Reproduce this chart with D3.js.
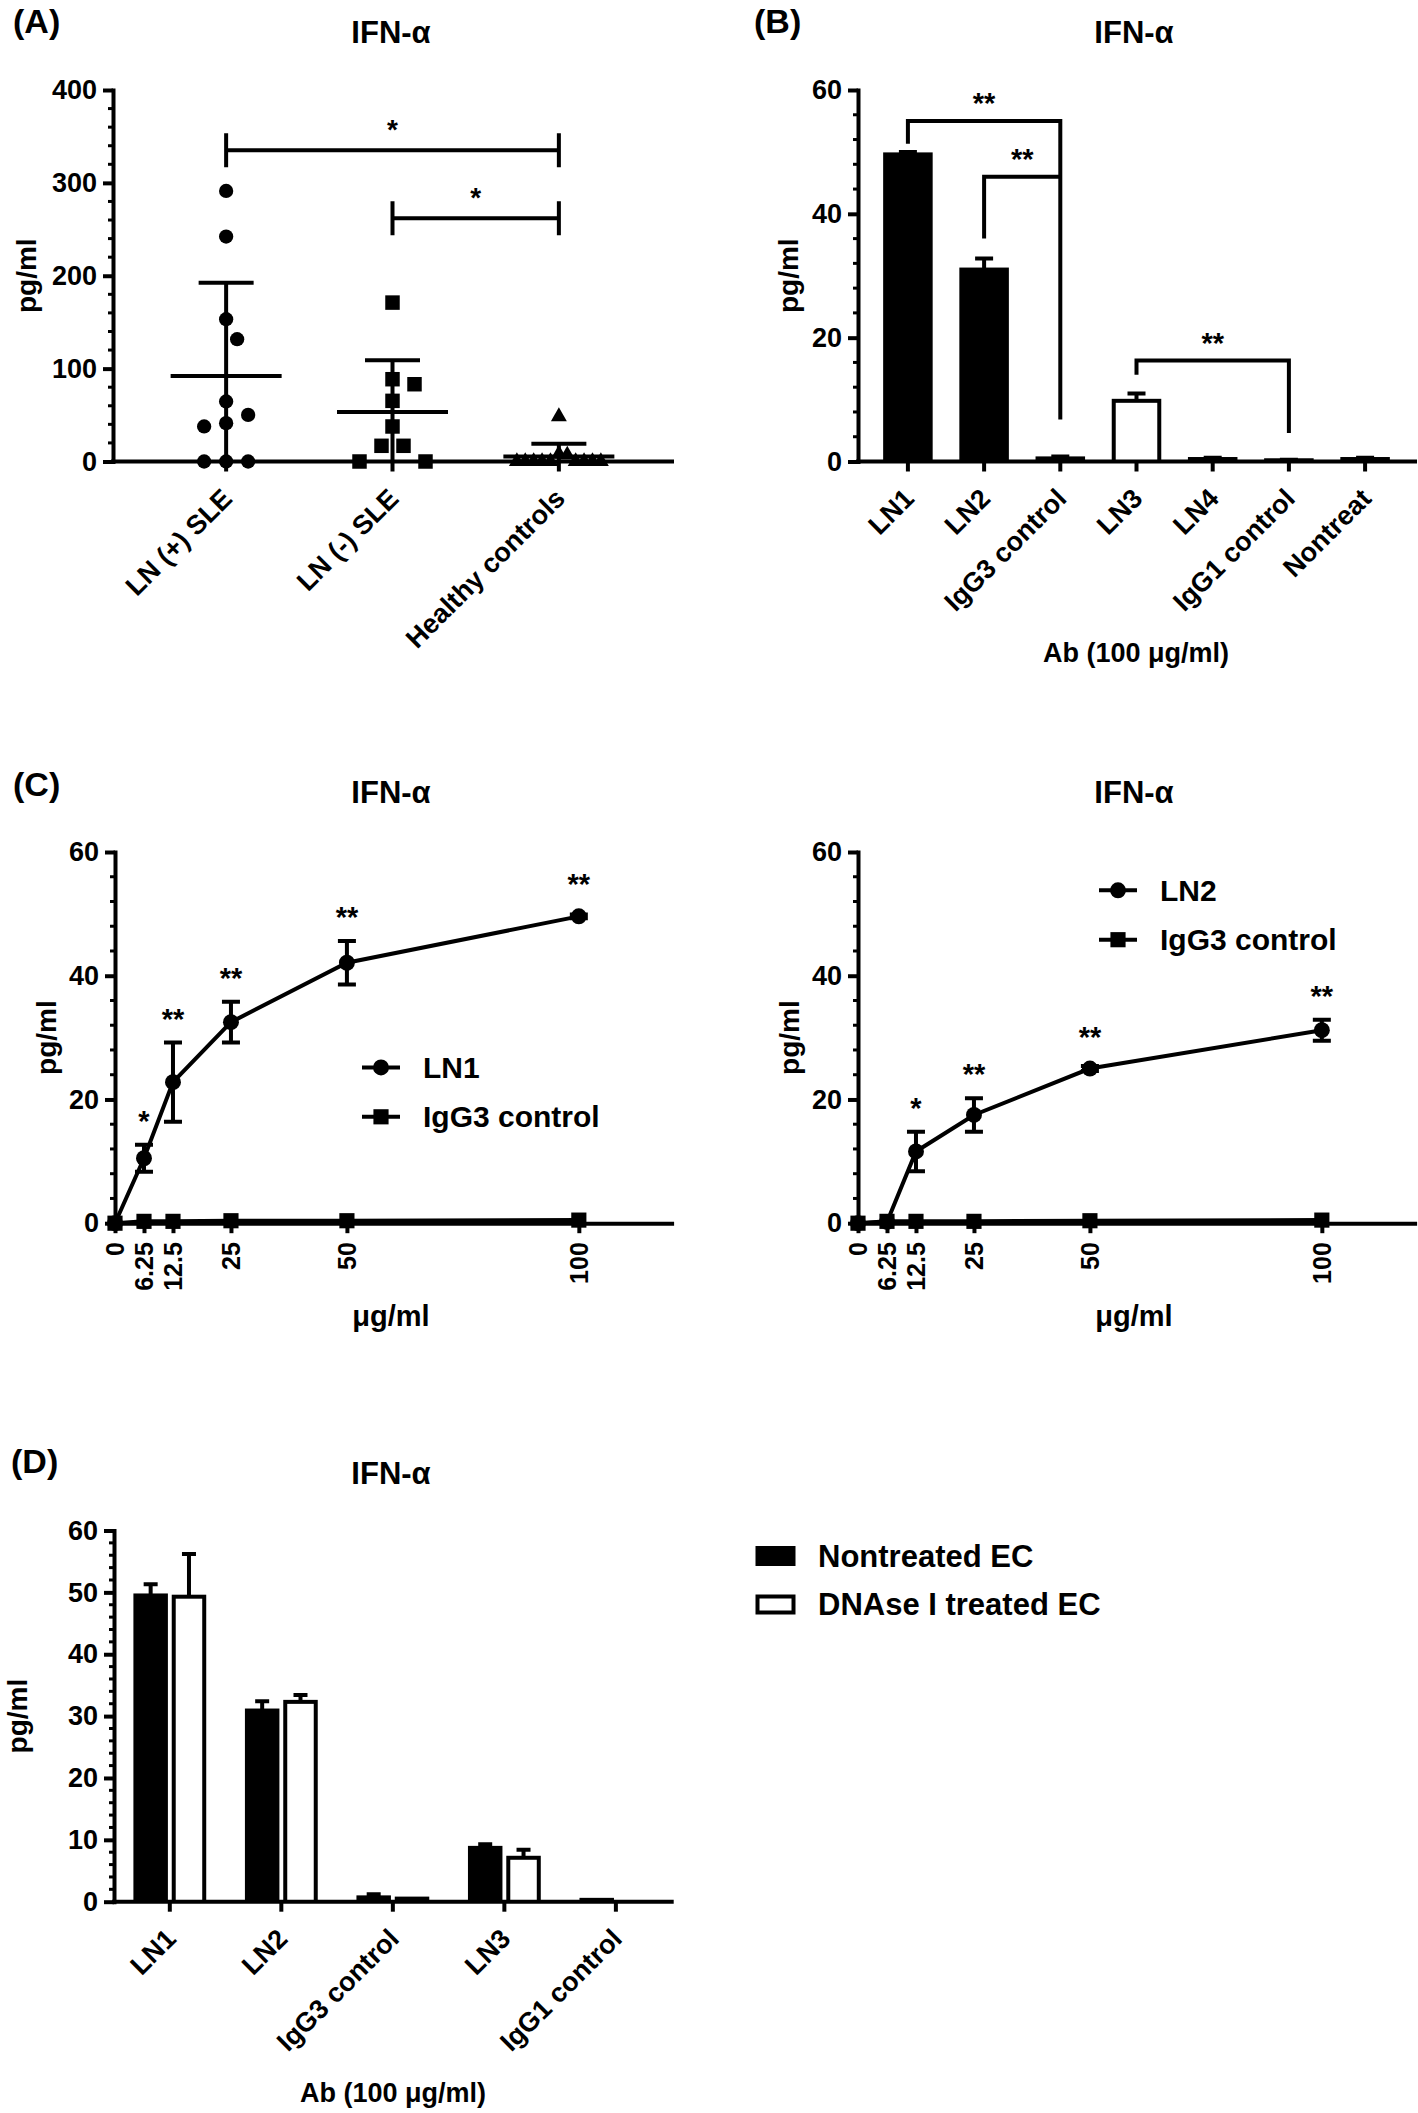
<!DOCTYPE html>
<html>
<head>
<meta charset="utf-8">
<script src="https://cdn.jsdelivr.net/npm/d3@7"></script>
<style>
  html, body { margin: 0; padding: 0; background: #fff; }
  svg { display: block; }
</style>
</head>
<body>
<script>
// ---------------- DATA ----------------
// Panel A : individual values (pg/ml)
const aCategories = ["LN (+) SLE", "LN (-) SLE", "Healthy controls"];
const aLNpos   = [291.3, 242.2, 153.2, 131.7, 64.6, 50.2, 41.3, 37.7, 0, 0, 0];
const aLNneg   = [171.1, 88.6, 83.2, 65.3, 37.7, 16.9, 16.9, 0, 0];
const aHealthy = [48.4, 8, 7, 0, 0, 0, 0, 0, 0, 0, 0, 0];
const aTicks = [0, 100, 200, 300, 400];
const aMinorStep = 20;
// [from index, to index, level (pg/ml), label]
const aBrackets = [[0, 2, 335, "*"], [1, 2, 262, "*"]];

// Panel B : bar means and SD
const bCategories = ["LN1", "LN2", "IgG3 control", "LN3", "LN4", "IgG1 control", "Nontreat"];
const bMeans = [49.6, 31.0, 0.5, 9.8, 0.4, 0.2, 0.4];
const bSD    = [0.4, 1.8, 0.3, 1.2, 0.2, 0.1, 0.2];
const bTicks = [0, 20, 40, 60];
// [from, to, level, leg end at from, leg end at to, label]
const bBrackets = [
  ["LN1", "IgG3 control", 55.0, 51.3, 6.8, "**"],
  ["LN2", "IgG3 control", 46.0, 36.0, 46.0, "**"],
  ["LN3", "IgG1 control", 16.3, 14.0, 4.6, "**"]
];
const bXTitle = "Ab (100 \u03bcg/ml)";

// Panel C : dose response
const cDoses = [0, 6.25, 12.5, 25, 50, 100];
const cDoseLabels = ["0", "6.25", "12.5", "25", "50", "100"];
const cLN1   = [0, 10.5, 22.8, 32.5, 42.1, 49.6];
const cLN1sd = [0, 2.2, 6.4, 3.3, 3.5, 0.3];
const cIgG3L = [0, 0.3, 0.3, 0.4, 0.4, 0.5];
const cLN1sig = ["", "*", "**", "**", "**", "**"];
const cLN2   = [0, 0.2, 11.6, 17.5, 25.0, 31.2];
const cLN2sd = [0, 0, 3.2, 2.7, 0.4, 1.7];
const cIgG3R = [0, 0.3, 0.3, 0.3, 0.4, 0.5];
const cLN2sig = ["", "", "*", "**", "**", "**"];
const cTicks = [0, 20, 40, 60];
const cXTitle = "\u03bcg/ml";

// Panel D : grouped bars
const dCategories = ["LN1", "LN2", "IgG3 control", "LN3", "IgG1 control"];
const dSeries = ["Nontreated EC", "DNAse I treated EC"];
const dNontreated   = [49.5, 30.9, 0.7, 8.7, 0.3];
const dNontreatedSD = [1.8, 1.5, 0.5, 0.6, 0];
const dDNAse        = [49.3, 32.3, 0.5, 7.1, 0];
const dDNAseSD      = [6.9, 1.1, 0, 1.3, 0];
const dTicks = [0, 10, 20, 30, 40, 50, 60];

const titleText = "IFN-\u03b1";
const yTitle = "pg/ml";

// ---------------- STYLE ----------------
const FONT = "'Liberation Sans', Arial, Helvetica, sans-serif";
const SW = 4;
const svg = d3.select("body").append("svg").attr("width", 1418).attr("height", 2113);

function txt(g, x, y, s, size, opts = {}) {
  const t = g.append("text").attr("x", x).attr("y", y).text(s)
    .attr("font-family", FONT).attr("font-weight", "bold")
    .attr("font-size", size).attr("fill", "#000")
    .attr("text-anchor", opts.anchor || "middle");
  if (opts.dy) t.attr("dy", opts.dy);
  if (opts.transform) t.attr("transform", opts.transform);
  return t;
}

function yAxis(g, y, x0, ticks, minorStep) {
  const ax = g.append("g").attr("transform", `translate(${x0},0)`)
    .call(d3.axisLeft(y).tickValues(ticks).tickSize(10).tickPadding(6).tickSizeOuter(0));
  ax.selectAll("path,line").attr("stroke", "#000").attr("stroke-width", SW);
  ax.select("path.domain").attr("stroke-linecap", "square");
  ax.selectAll("text").attr("font-family", FONT).attr("font-weight", "bold")
    .attr("font-size", 27).attr("fill", "#000");
  const dom = y.domain();
  const minors = d3.range(dom[0], dom[1] + 1e-9, minorStep).filter(v => !ticks.some(t => Math.abs(t - v) < 1e-9));
  g.append("g").selectAll("line").data(minors).join("line")
    .attr("x1", x0 - 5).attr("x2", x0).attr("y1", d => y(d)).attr("y2", d => y(d))
    .attr("stroke", "#000").attr("stroke-width", 3);
}

function xBaseline(g, x0, x1, yy) {
  g.append("line").attr("x1", x0).attr("x2", x1).attr("y1", yy).attr("y2", yy)
    .attr("stroke", "#000").attr("stroke-width", SW).attr("stroke-linecap", "square");
}

function catTicks(g, xs, yy) {
  g.append("g").selectAll("line").data(xs).join("line")
    .attr("x1", d => d).attr("x2", d => d).attr("y1", yy).attr("y2", yy + 10)
    .attr("stroke", "#000").attr("stroke-width", SW);
}

function rotLabels(g, labels, xs, yy, size) {
  labels.forEach((s, i) => {
    txt(g, 0, 0, s, size, { anchor: "end", dy: "0.35em",
      transform: `translate(${xs[i] + 1},${yy + 32}) rotate(-45)` });
  });
}

// bar drawn as outer black rect (value edge carries half the stroke) plus inner white for open bars
function bar(g, x0, w, top, y0, open) {
  g.append("rect").attr("x", x0).attr("width", w)
    .attr("y", top - SW / 2).attr("height", Math.max(0, y0 - top + SW / 2)).attr("fill", "#000");
  const ih = y0 - top - SW / 2;
  if (open && ih > 0) {
    g.append("rect").attr("x", x0 + SW).attr("width", w - 2 * SW)
      .attr("y", top + SW / 2).attr("height", ih).attr("fill", "#fff");
  }
}

function swarm(values, y, s, dmin, maxHalf) {
  const pts = values.map((v, i) => ({ v, i, y: y(v) })).sort((a, b) => b.v - a.v);
  const placed = [];
  pts.forEach(p => {
    for (let k = 0; k < 200; k++) {
      const c = k === 0 ? 0 : (k % 2 === 1 ? 1 : -1) * Math.ceil(k / 2) * s;
      if (placed.every(q => Math.hypot(q.dx - c, q.y - p.y) >= dmin)) { p.dx = c; placed.push(p); break; }
    }
  });
  const m = d3.max(placed, p => Math.abs(p.dx));
  if (m > maxHalf) placed.forEach(p => p.dx *= maxHalf / m);
  return placed;
}

// ---------------- PANEL A ----------------
(function () {
  const g = svg.append("g");
  const y = d3.scaleLinear().domain([0, 400]).range([461.5, 90]);
  const x = d3.scalePoint().domain(aCategories).range([113, 672]).padding(0.68);
  txt(g, 13, 33, "(A)", 34, { anchor: "start" });
  txt(g, 391, 43, titleText, 31);
  txt(g, 0, 0, yTitle, 28, { dy: "0.26em", transform: `translate(29,${(y(0) + y(400)) / 2}) rotate(-90)` });

  aBrackets.forEach(([a, b, lvl, lab]) => {
    const x1 = x(aCategories[a]), x2 = x(aCategories[b]), yy = y(lvl);
    g.append("path").attr("d", `M${x1},${yy}H${x2}M${x1},${yy - 17}V${yy + 17}M${x2},${yy - 17}V${yy + 17}`)
      .attr("stroke", "#000").attr("stroke-width", SW).attr("fill", "none");
    txt(g, (x1 + x2) / 2, yy - 11, lab, 28);
  });

  const groups = [aLNpos, aLNneg, aHealthy];
  const symbols = [d3.symbolCircle, d3.symbolSquare, d3.symbolTriangle];
  const sizes = [160, 210, 110];
  groups.forEach((vals, gi) => {
    const cx = x(aCategories[gi]);
    const mean = d3.mean(vals), sd = d3.deviation(vals);
    g.append("line").attr("x1", cx - 55.5).attr("x2", cx + 55.5).attr("y1", y(mean)).attr("y2", y(mean))
      .attr("stroke", "#000").attr("stroke-width", SW);
    g.append("line").attr("x1", cx).attr("x2", cx).attr("y1", y(Math.max(0, mean - sd))).attr("y2", y(mean + sd))
      .attr("stroke", "#000").attr("stroke-width", SW);
    g.append("line").attr("x1", cx - 27.5).attr("x2", cx + 27.5).attr("y1", y(mean + sd)).attr("y2", y(mean + sd))
      .attr("stroke", "#000").attr("stroke-width", SW);
    const pts = swarm(vals, y, 11, 21, gi === 2 ? 42 : 60);
    g.append("g").selectAll("path").data(pts).join("path")
      .attr("d", d3.symbol().type(symbols[gi]).size(sizes[gi]))
      .attr("transform", p => `translate(${cx + p.dx},${p.y})`)
      .attr("fill", "#000");
  });

  yAxis(g, y, 113, aTicks, aMinorStep);
  xBaseline(g, 113, 672, y(0));
  catTicks(g, aCategories.map(c => x(c)), y(0));
  rotLabels(g, aCategories, aCategories.map(c => x(c)), y(0), 27);
})();

// ---------------- PANEL B ----------------
(function () {
  const g = svg.append("g");
  const y = d3.scaleLinear().domain([0, 60]).range([461.5, 90]);
  const x = d3.scaleBand().domain(bCategories).range([858, 1415]).paddingInner(0.35).paddingOuter(0.33);
  const openBars = new Set(["LN3", "LN4", "IgG1 control"]);
  txt(g, 754, 33, "(B)", 34, { anchor: "start" });
  txt(g, 1134, 43, titleText, 31);
  txt(g, 0, 0, yTitle, 28, { dy: "0.26em", transform: `translate(791,${(y(0) + y(60)) / 2}) rotate(-90)` });

  bCategories.forEach((c, i) => {
    const x0 = x(c), w = x.bandwidth();
    const top = y(bMeans[i]);
    bar(g, x0, w, top, y(0), openBars.has(c));
    const cx = x0 + w / 2, et = y(bMeans[i] + bSD[i]);
    g.append("path").attr("d", `M${cx},${top}V${et}M${cx - 9},${et}H${cx + 9}`)
      .attr("stroke", "#000").attr("stroke-width", SW).attr("fill", "none");
  });

  bBrackets.forEach(([a, b, lvl, la, lb, lab]) => {
    const x1 = x(a) + x.bandwidth() / 2, x2 = x(b) + x.bandwidth() / 2;
    g.append("path").attr("d", `M${x1},${y(la)}V${y(lvl)}H${x2}V${y(lb)}`)
      .attr("stroke", "#000").attr("stroke-width", SW).attr("fill", "none");
    txt(g, (x1 + x2) / 2, y(lvl) - 8, lab, 29);
  });

  yAxis(g, y, 858, bTicks, 4);
  xBaseline(g, 858, 1415, y(0));
  const cx = bCategories.map(c => x(c) + x.bandwidth() / 2);
  catTicks(g, cx, y(0));
  rotLabels(g, bCategories, cx, y(0), 27);
  txt(g, 1136, 662, bXTitle, 27);
})();

// ---------------- PANEL C ----------------
function panelC(opts) {
  const g = svg.append("g");
  const y = d3.scaleLinear().domain([0, 60]).range([1223.2, 852]);
  const x = d3.scaleLinear().domain([0, 120]).range([opts.x0, opts.x0 + 556.6]);
  if (opts.label) txt(g, 13, 796, opts.label, 34, { anchor: "start" });
  txt(g, opts.titleX, 803, titleText, 31);
  txt(g, 0, 0, yTitle, 28, { dy: "0.26em", transform: `translate(${opts.yTitleX},${(y(0) + y(60)) / 2}) rotate(-90)` });

  const line = d3.line().x((d, i) => x(cDoses[i])).y(d => y(d));
  g.append("path").attr("d", line(opts.ctrl)).attr("stroke", "#000").attr("stroke-width", SW).attr("fill", "none");
  g.append("path").attr("d", line(opts.ln)).attr("stroke", "#000").attr("stroke-width", SW).attr("fill", "none");
  opts.ln.forEach((m, i) => {
    const s = opts.sd[i];
    if (s <= 0) return;
    const cx = x(cDoses[i]);
    g.append("path").attr("d", `M${cx},${y(m - s)}V${y(m + s)}M${cx - 9},${y(m + s)}H${cx + 9}M${cx - 9},${y(m - s)}H${cx + 9}`)
      .attr("stroke", "#000").attr("stroke-width", SW).attr("fill", "none");
  });
  g.append("g").selectAll("path").data(opts.ctrl).join("path")
    .attr("d", d3.symbol().type(d3.symbolSquare).size(230))
    .attr("transform", (d, i) => `translate(${x(cDoses[i])},${y(d)})`).attr("fill", "#000");
  g.append("g").selectAll("path").data(opts.ln).join("path")
    .attr("d", d3.symbol().type(d3.symbolCircle).size(200))
    .attr("transform", (d, i) => `translate(${x(cDoses[i])},${y(d)})`).attr("fill", "#000");
  opts.ln.forEach((m, i) => {
    if (!opts.sig[i]) return;
    const top = Math.min(y(m + opts.sd[i]), y(m) - 8);
    txt(g, x(cDoses[i]), top - 14, opts.sig[i], 29);
  });

  yAxis(g, y, opts.x0, cTicks, 4);
  const ax = g.append("g").attr("transform", `translate(0,${y(0)})`)
    .call(d3.axisBottom(x).tickValues(cDoses).tickFormat((d, i) => cDoseLabels[i]).tickSize(10).tickSizeOuter(0));
  ax.selectAll("path,line").attr("stroke", "#000").attr("stroke-width", SW);
  ax.select("path.domain").attr("stroke-linecap", "square");
  ax.selectAll("text").attr("font-family", FONT).attr("font-weight", "bold").attr("font-size", 25).attr("fill", "#000")
    .attr("transform", "rotate(-90)").attr("x", -19).attr("y", 0).attr("dy", "0.35em").attr("text-anchor", "end");
  txt(g, opts.titleX, 1326, cXTitle, 29);

  const items = [[opts.name, d3.symbolCircle], ["IgG3 control", d3.symbolSquare]];
  items.forEach(([nm, sym], k) => {
    const yy = opts.legY + k * 49.4;
    g.append("line").attr("x1", opts.legX).attr("x2", opts.legX + 38).attr("y1", yy).attr("y2", yy)
      .attr("stroke", "#000").attr("stroke-width", SW);
    g.append("path").attr("d", d3.symbol().type(sym).size(sym === d3.symbolSquare ? 230 : 200))
      .attr("transform", `translate(${opts.legX + 19},${yy})`).attr("fill", "#000");
    txt(g, opts.legX + 61, yy, nm, 30, { anchor: "start", dy: "0.35em" });
  });
}
panelC({ x0: 115, label: "(C)", titleX: 391, yTitleX: 49, ln: cLN1, sd: cLN1sd, ctrl: cIgG3L, sig: cLN1sig, name: "LN1", legX: 362, legY: 1067.4 });
panelC({ x0: 858, label: null, titleX: 1134, yTitleX: 792, ln: cLN2, sd: cLN2sd, ctrl: cIgG3R, sig: cLN2sig, name: "LN2", legX: 1099, legY: 890.3 });

// ---------------- PANEL D ----------------
(function () {
  const g = svg.append("g");
  const y = d3.scaleLinear().domain([0, 60]).range([1901.7, 1530.5]);
  const x = d3.scaleBand().domain(dCategories).range([114, 671.7]).paddingInner(0.347).paddingOuter(0.174);
  const xs = d3.scaleBand().domain(dSeries).range([0, x.bandwidth()]).paddingInner(0.1);
  const openSeries = new Set(["DNAse I treated EC"]);
  const vals = { "Nontreated EC": [dNontreated, dNontreatedSD], "DNAse I treated EC": [dDNAse, dDNAseSD] };
  txt(g, 11, 1473, "(D)", 34, { anchor: "start" });
  txt(g, 391, 1484, titleText, 31);
  txt(g, 0, 0, yTitle, 28, { dy: "0.26em", transform: `translate(20,${(y(0) + y(60)) / 2}) rotate(-90)` });

  dCategories.forEach((c, i) => {
    dSeries.forEach(s => {
      const [m, sd] = [vals[s][0][i], vals[s][1][i]];
      const x0 = x(c) + xs(s), w = xs.bandwidth();
      const top = y(m);
      if (m > 0) bar(g, x0, w, top, y(0), openSeries.has(s));
      if (sd > 0) {
        const cx = x0 + w / 2, et = y(m + sd);
        g.append("path").attr("d", `M${cx},${top}V${et}M${cx - 7},${et}H${cx + 7}`)
          .attr("stroke", "#000").attr("stroke-width", SW).attr("fill", "none");
      }
    });
  });

  yAxis(g, y, 114, dTicks, 2);
  xBaseline(g, 114, 671.7, y(0));
  const cx = dCategories.map(c => x(c) + x.bandwidth() / 2);
  catTicks(g, cx, y(0));
  rotLabels(g, dCategories, cx, y(0), 27);
  txt(g, 393, 2102, bXTitle, 27);

  dSeries.forEach((s, k) => {
    const yy = 1556 + k * 48.5;
    g.append("rect").attr("x", 755.5 + SW / 2).attr("y", yy - 10 + SW / 2).attr("width", 40 - SW).attr("height", 20 - SW)
      .attr("fill", openSeries.has(s) ? "#fff" : "#000").attr("stroke", "#000").attr("stroke-width", SW);
    txt(g, 818, yy, s, 31, { anchor: "start", dy: "0.35em" });
  });
})();
</script>
</body>
</html>
